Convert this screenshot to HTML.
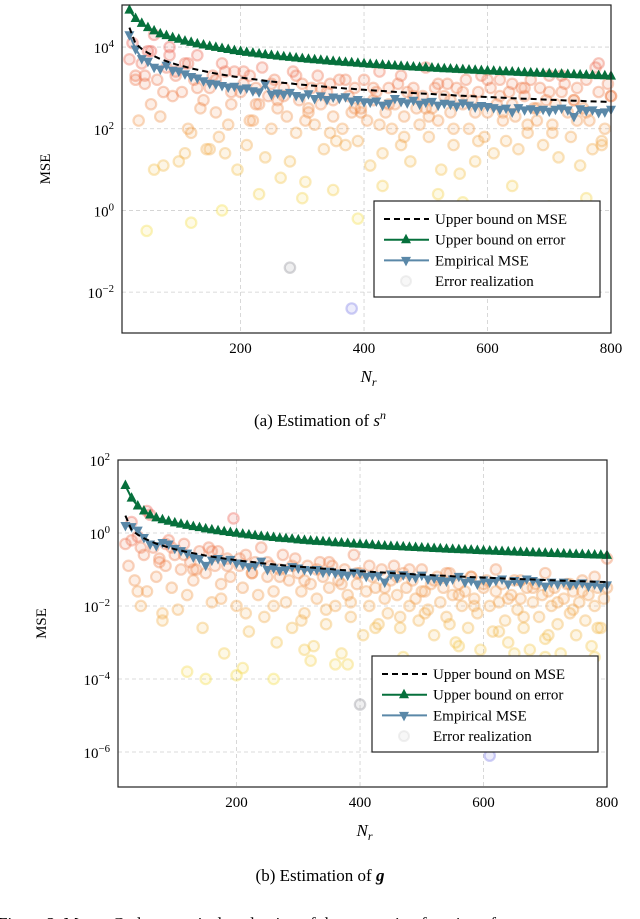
<!DOCTYPE html>
<html><head><meta charset="utf-8"><style>
html,body{margin:0;padding:0;background:#fff;}
svg{display:block;font-family:"Liberation Serif",serif;}
</style></head><body>
<svg id="fig" width="640" height="919" viewBox="0 0 640 919" xmlns="http://www.w3.org/2000/svg"></svg>
<script>
// ---------- DATA ----------
const nValues = [20,30,40,50,60,70,80,90,100,110,120,130,140,150,160,170,180,190,200,210,220,230,240,250,260,270,280,290,300,310,320,330,340,350,360,370,380,390,400,410,420,430,440,450,460,470,480,490,500,510,520,530,540,550,560,570,580,590,600,610,620,630,640,650,660,670,680,690,700,710,720,730,740,750,760,770,780,790,800];
const xTicks = [200,400,600,800];

// Chart (a)
const aMseBound = [30000,12000,9000,7200,6000,5100,4500,4000,3600,3300,3000,2800,2600,2400,2250,2120,2000,1890,1800,1710,1640,1570,1500,1440,1380,1330,1290,1240,1200,1160,1130,1090,1060,1030,1000,970,950,920,900,880,860,840,820,800,780,770,750,730,720,710,690,680,670,650,640,630,620,610,600,590,580,570,560,550,545,537,530,522,514,507,500,493,486,480,474,468,462,456,450];
const aErrBound = [80000,50000,38000,30000,25000,21000,19000,17000,15500,14000,13000,12000,11200,10400,9800,9200,8700,8200,7800,7400,7100,6800,6500,6250,6000,5800,5600,5400,5200,5050,4900,4750,4600,4480,4350,4230,4120,4010,3900,3810,3720,3630,3550,3470,3400,3330,3260,3190,3130,3070,3010,2950,2900,2850,2800,2750,2700,2650,2610,2570,2530,2490,2450,2410,2370,2340,2300,2270,2240,2200,2170,2140,2110,2080,2060,2030,2000,1980,1950];
const aEmpirical = [20000,9000,5200,4500,3200,2900,3600,2700,2600,2200,1900,1750,1500,1300,1250,1150,1050,1100,950,1000,850,800,1250,700,750,700,780,650,600,720,550,640,520,600,560,610,480,520,460,450,480,380,420,550,470,430,500,400,450,470,380,420,400,360,430,380,340,370,350,330,300,320,260,330,290,310,280,300,270,300,320,290,200,310,280,290,250,260,300];
const aYTicks = [-2,0,2,4];
const aScatterN = [20,25,30,35,40,45,50,55,60,65,70,75,80,85,90,95,100,105,110,115,120,125,130,140,145,150,155,160,165,170,175,180,185,190,195,200,205,210,215,220,225,230,235,240,245,250,255,260,265,270,275,280,285,290,295,300,305,310,315,320,325,330,335,340,345,350,355,360,365,370,375,380,385,390,395,400,405,410,415,420,425,430,435,440,445,450,455,460,465,470,475,480,485,490,495,500,505,510,515,520,525,530,535,540,545,550,555,560,565,570,575,580,585,590,595,600,605,610,615,620,625,630,635,640,645,650,655,660,665,670,675,680,685,690,695,700,705,710,715,720,725,730,735,740,745,750,755,760,765,770,775,780,785,790,795,800,48,120,280,380,60,110,170,300,390,560,230,430,700,350,150,640,520,760,
  30,55,75,95,115,135,160,185,205,225,250,270,290,310,330,350,370,395,415,440,460,480,500,520,540,560,580,600,620,640,660,680,700,720,740,760,780,800,45,85,130,175,215,260,305,345,385,425,465,505,545,585,625,665,705,745,785];
const aScatterLog = [3.7,4.1,3.3,2.2,3.6,3.1,3.9,2.6,4.3,3.2,2.3,1.1,3.5,4.0,2.8,3.4,1.2,2.9,3.6,2.0,1.9,3.2,3.8,2.7,1.5,3.0,3.3,2.4,1.8,3.6,1.4,2.1,2.6,3.4,1.0,2.9,3.1,1.6,3.3,2.2,3.0,2.6,3.5,1.3,2.8,2.0,3.2,2.5,0.8,3.0,2.3,1.2,3.4,1.9,2.7,3.1,0.7,2.4,3.0,2.1,3.3,2.6,1.5,2.9,3.1,2.3,1.7,3.2,2.0,1.6,2.8,2.4,3.0,1.7,2.5,3.2,2.2,1.1,2.7,2.9,3.4,1.4,2.4,3.0,2.0,2.6,3.1,1.6,2.3,2.9,1.2,3.0,2.5,2.1,2.8,3.5,1.8,2.5,3.0,2.2,1.0,2.8,3.1,2.4,1.6,3.0,0.9,2.6,3.2,2.0,2.7,1.2,2.9,3.3,1.8,2.4,3.0,1.4,2.6,3.2,2.2,1.7,2.9,3.1,2.3,1.5,3.0,2.8,1.9,3.2,2.5,2.2,3.0,1.6,2.7,3.3,2.1,2.6,1.3,2.9,3.1,2.4,1.8,2.7,3.0,1.1,2.5,3.2,2.2,1.5,3.5,2.9,1.7,2.0,3.1,2.8,-0.5,-0.3,-1.4,-2.4,1.0,1.4,0.0,0.3,-0.2,0.2,0.4,0.6,0.1,0.5,1.5,0.6,0.4,0.3,
  3.2,3.9,2.9,3.3,3.6,2.5,3.2,2.9,3.4,2.6,3.1,2.8,3.3,2.5,3.0,2.7,3.2,2.4,3.0,2.6,3.3,2.8,2.5,3.1,2.7,2.9,2.4,3.2,2.8,2.6,3.0,2.5,2.9,3.3,2.7,2.4,3.6,2.8,3.3,3.8,3.0,3.4,2.2,2.7,2.2,1.9,2.5,2.1,1.8,2.3,2.0,1.7,2.4,2.1,1.9,2.2,1.6];

// Chart (b)
const bMseBound = [3.0,1.2,0.9,0.72,0.6,0.51,0.45,0.4,0.36,0.33,0.3,0.28,0.26,0.24,0.225,0.212,0.2,0.189,0.18,0.171,0.164,0.157,0.15,0.144,0.138,0.133,0.129,0.124,0.12,0.116,0.113,0.109,0.106,0.103,0.1,0.097,0.095,0.092,0.09,0.088,0.086,0.084,0.082,0.08,0.078,0.077,0.075,0.073,0.072,0.071,0.069,0.068,0.067,0.065,0.064,0.063,0.062,0.061,0.06,0.059,0.058,0.057,0.056,0.055,0.0545,0.0537,0.053,0.0522,0.0514,0.0507,0.05,0.0493,0.0486,0.048,0.0474,0.0468,0.0462,0.0456,0.045];
const bErrBound = [20,9,5.5,4.0,3.1,2.6,2.3,2.1,1.9,1.75,1.62,1.5,1.4,1.3,1.22,1.15,1.09,1.03,0.98,0.93,0.89,0.85,0.81,0.78,0.75,0.72,0.70,0.68,0.65,0.63,0.61,0.59,0.58,0.56,0.54,0.53,0.52,0.50,0.49,0.48,0.47,0.45,0.44,0.43,0.425,0.416,0.408,0.4,0.39,0.384,0.376,0.369,0.362,0.356,0.35,0.344,0.338,0.331,0.326,0.321,0.316,0.311,0.306,0.301,0.296,0.292,0.288,0.284,0.28,0.275,0.271,0.268,0.264,0.26,0.257,0.254,0.25,0.247,0.244];
const bEmpirical = [1.6,1.5,1.2,0.75,0.5,0.45,0.55,0.5,0.38,0.33,0.28,0.22,0.2,0.13,0.18,0.2,0.17,0.19,0.15,0.14,0.12,0.13,0.17,0.1,0.11,0.095,0.1,0.12,0.11,0.1,0.095,0.1,0.085,0.09,0.08,0.075,0.07,0.085,0.08,0.065,0.07,0.068,0.045,0.075,0.06,0.072,0.065,0.06,0.07,0.055,0.058,0.05,0.048,0.055,0.065,0.045,0.05,0.04,0.052,0.045,0.05,0.055,0.04,0.05,0.042,0.055,0.05,0.045,0.035,0.045,0.04,0.045,0.038,0.04,0.043,0.035,0.04,0.033,0.038];
const bYTicks = [-6,-4,-2,0,2];
const bScatterN = [20,25,30,35,40,45,50,55,60,65,70,75,80,85,90,95,100,105,110,115,120,125,130,140,145,150,155,160,165,170,175,180,185,190,195,200,205,210,215,220,225,230,235,240,245,250,255,260,265,270,275,280,285,290,295,300,305,310,315,320,325,330,335,340,345,350,355,360,365,370,375,380,385,390,395,400,405,410,415,420,425,430,435,440,445,450,455,460,465,470,475,480,485,490,495,500,505,510,515,520,525,530,535,540,545,550,555,560,565,570,575,580,585,590,595,600,605,610,615,620,625,630,635,640,645,650,655,660,665,670,675,680,685,690,695,700,705,710,715,720,725,730,735,740,745,750,755,760,765,770,775,780,785,790,795,800,40,80,150,200,210,260,310,320,380,400,610,120,360,470,700,560,650,780,
  30,55,75,95,115,135,160,185,205,225,250,270,290,310,330,350,370,395,415,440,460,480,500,520,540,560,580,600,620,640,660,680,700,720,740,760,780,800,45,85,130,175,215,260,305,345,385,425,465,505,545,585,625,665,705,745,785];
const bScatterLog = [-0.3,-0.9,0.3,-1.3,-0.1,-2.0,-0.6,-1.6,0.5,-0.4,-1.2,-0.7,-2.4,-0.9,-0.2,-1.5,-0.6,-2.1,-1.0,-0.3,-1.7,-0.8,-1.3,-0.5,-2.6,-1.1,-0.4,-1.9,-0.9,-0.5,-1.4,-3.3,-0.7,-1.2,0.4,-2.0,-0.9,-1.5,-0.6,-2.7,-1.1,-0.8,-1.7,-0.4,-2.3,-1.2,-0.9,-1.6,-3.0,-1.0,-0.6,-1.9,-1.3,-2.6,-0.7,-1.1,-1.6,-2.2,-0.9,-1.4,-3.1,-1.8,-0.8,-1.2,-2.5,-1.5,-0.9,-2.0,-1.3,-3.3,-1.0,-1.7,-2.3,-0.6,-1.4,-1.1,-2.8,-1.6,-2.0,-1.2,-1.5,-2.5,-1.0,-1.8,-2.2,-1.3,-0.9,-1.7,-2.6,-1.1,-1.5,-2.0,-1.3,-1.8,-2.4,-1.0,-1.6,-2.1,-1.4,-2.8,-1.2,-1.9,-1.5,-2.3,-1.1,-1.7,-3.0,-1.4,-2.0,-1.6,-2.6,-1.2,-1.8,-2.2,-3.2,-1.5,-1.3,-2.0,-2.7,-1.6,-1.9,-1.4,-2.4,-3.0,-1.7,-1.3,-2.1,-1.8,-2.6,-1.5,-3.2,-1.9,-1.4,-2.3,-1.7,-2.9,-1.6,-2.0,-1.5,-2.5,-3.3,-1.8,-1.4,-2.2,-1.6,-2.8,-1.9,-1.3,-2.4,-1.7,-3.1,-2.0,-1.5,-2.6,-1.8,-0.7,-1.6,-2.2,-4.0,-3.9,-3.7,-4.0,-3.2,-3.5,-3.6,-4.7,-6.1,-3.8,-3.6,-3.4,-3.4,-3.1,-3.3,-3.4,
  -0.2,0.6,-0.8,-0.4,-0.6,-1.0,-0.5,-0.9,-0.7,-1.1,-0.8,-1.2,-0.9,-1.3,-1.0,-0.8,-1.4,-1.1,-0.9,-1.5,-1.2,-1.0,-1.6,-1.3,-1.1,-1.7,-1.2,-1.4,-1.0,-1.8,-1.3,-1.5,-1.1,-1.9,-1.4,-1.6,-1.2,-1.5,-0.4,-0.3,-1.0,-1.8,-2.2,-2.0,-2.4,-2.1,-1.9,-2.6,-2.3,-2.2,-2.5,-2.0,-2.7,-2.3,-2.8,-2.1,-2.6];

// ---------- DRAWING ----------
const NS = "http://www.w3.org/2000/svg";
const svg = document.getElementById("fig");
function mk(tag, attrs, parent) {
  const e = document.createElementNS(NS, tag);
  for (const k in attrs) e.setAttribute(k, attrs[k]);
  (parent || svg).appendChild(e);
  return e;
}
function scatterColor(lg, lo, hi) {
  let t = (lg - lo) / (hi - lo); t = Math.max(0, Math.min(1, t));
  const r = Math.round(245 - 10 * t), g = Math.round(222 - 130 * t), b = Math.round(70 + 10 * t);
  return "rgb(" + r + "," + g + "," + b + ")";
}
function supText(g, x, y, base, exp, anchor, size, name) {
  const t = mk("text", {x: x, y: y, "text-anchor": anchor, "font-size": size, fill: "#000"}, g);
  
  
  const a = mk("tspan", {}, t); a.textContent = base;
  const b = mk("tspan", {dy: -6, "font-size": size * 0.72}, t); b.textContent = exp;
  return t;
}

function drawChart(c) {
  const g = mk("g", {});
  
  
  const xs = v => c.L + (v - 8) / (800 - 8) * (c.R - c.L);
  const ys = v => c.B - (Math.log10(v) - c.yMin) / (c.yMax - c.yMin) * (c.B - c.T);
  const ysl = lg => c.B - (lg - c.yMin) / (c.yMax - c.yMin) * (c.B - c.T);

  const grid = mk("g", {stroke: "#cfcfcf", "stroke-width": 0.8, "stroke-dasharray": "4,3"}, g);
  
  
  xTicks.forEach(t => { if (t < 800) mk("line", {x1: xs(t), x2: xs(t), y1: c.T, y2: c.B}, grid); });
  c.yTicks.forEach(t => { mk("line", {x1: c.L, x2: c.R, y1: ysl(t), y2: ysl(t)}, grid); });

  const sc = mk("g", {}, g);
  
  
  for (let i = 0; i < Math.min(c.sN.length, c.sLog.length); i++) {
    const lg = c.sLog[i];
    let col = scatterColor(lg, c.cLo, c.cHi);
    if (lg < c.grayBelow) col = lg < c.blueBelow ? "rgb(120,120,230)" : "rgb(140,140,150)";
    const p = mk("circle", {cx: xs(c.sN[i]), cy: ysl(lg), r: 5.2, fill: col, "fill-opacity": 0.14, stroke: col, "stroke-width": 2.2, "stroke-opacity": 0.36}, sc);
    
    
  }

  function path(vals) {
    let d = "";
    for (let i = 0; i < Math.min(nValues.length, vals.length); i++) d += (i ? "L" : "M") + xs(nValues[i]).toFixed(1) + "," + ys(vals[i]).toFixed(1);
    return d;
  }
  const green = mk("g", {}, g);
  
  
  mk("path", {d: path(c.err), fill: "none", stroke: "#06703c", "stroke-width": 2}, green);
  for (let i = 0; i < Math.min(nValues.length, c.err.length); i++) {
    const x = xs(nValues[i]), y = ys(c.err[i]);
    const m = mk("path", {d: `M${x},${y-6}L${x+5},${y+3.5}L${x-5},${y+3.5}Z`, fill: "#06703c"}, green);
    
    
  }
  const blue = mk("g", {}, g);
  
  
  mk("path", {d: path(c.emp), fill: "none", stroke: "#5a88a8", "stroke-width": 2}, blue);
  for (let i = 0; i < Math.min(nValues.length, c.emp.length); i++) {
    const x = xs(nValues[i]), y = ys(c.emp[i]);
    const m = mk("path", {d: `M${x},${y+6}L${x+5},${y-3.5}L${x-5},${y-3.5}Z`, fill: "#5a88a8"}, blue);
    
    
  }
  const dash = mk("path", {d: path(c.mse), fill: "none", stroke: "#000", "stroke-width": 2, "stroke-dasharray": "6,4"}, g);
  
  

  const box = mk("rect", {x: c.L, y: c.T, width: c.R - c.L, height: c.B - c.T, fill: "none", stroke: "#222", "stroke-width": 1.2}, g);
  
  

  xTicks.forEach(t => {
    const tx = mk("text", {x: xs(t), y: c.B + 20, "text-anchor": "middle", "font-size": 15}, g);
    
    
    tx.textContent = t;
  });
  c.yTicks.forEach(t => {
    supText(g, c.L - 8, ysl(t) + 6, "10", (t < 0 ? "\u2212" + (-t) : t), "end", 15, 'y-tick-label');
  });
  const yt = mk("text", {x: 0, y: 0, "text-anchor": "middle", "font-size": 15, transform: `translate(${c.L - 72},${(c.T + c.B) / 2}) rotate(-90)`}, g);
  
  
  yt.textContent = "MSE";
  const xt = mk("text", {x: (c.L + c.R) / 2 + 2, y: c.B + 49, "text-anchor": "middle", "font-size": 17, "font-style": "italic"}, g);
  
  
  const n1 = mk("tspan", {}, xt); n1.textContent = "N";
  const n2 = mk("tspan", {dy: 4, "font-size": 12}, xt); n2.textContent = "r";

  const lg = mk("g", {}, g);
  
  
  mk("rect", {x: c.lx, y: c.ly, width: 226, height: 96, fill: "#fff", stroke: "#222", "stroke-width": 1.2}, lg);
  const rows = ["Upper bound on MSE", "Upper bound on error", "Empirical MSE", "Error realization"];
  rows.forEach((r, i) => {
    const y = c.ly + 18 + i * 20.7;
    const e = mk("g", {}, lg);
    
    
    if (i === 0) mk("line", {x1: c.lx + 10, x2: c.lx + 55, y1: y, y2: y, stroke: "#000", "stroke-width": 2, "stroke-dasharray": "6,4"}, e);
    if (i === 1) { mk("line", {x1: c.lx + 10, x2: c.lx + 55, y1: y, y2: y, stroke: "#06703c", "stroke-width": 2}, e);
      mk("path", {d: `M${c.lx+32},${y-6}L${c.lx+37},${y+3.5}L${c.lx+27},${y+3.5}Z`, fill: "#06703c"}, e); }
    if (i === 2) { mk("line", {x1: c.lx + 10, x2: c.lx + 55, y1: y, y2: y, stroke: "#5a88a8", "stroke-width": 2}, e);
      mk("path", {d: `M${c.lx+32},${y+6}L${c.lx+37},${y-3.5}L${c.lx+27},${y-3.5}Z`, fill: "#5a88a8"}, e); }
    if (i === 3) mk("circle", {cx: c.lx + 32, cy: y, r: 5, fill: "#ccc", "fill-opacity": 0.15, stroke: "#ccc", "stroke-opacity": 0.3, "stroke-width": 2}, e);
    const t = mk("text", {x: c.lx + 61, y: y + 5, "font-size": 15}, e);
    t.textContent = r;
  });
}

drawChart({name: "chart-a", L: 122, R: 611, T: 5, B: 333, yMin: -3, yMax: 5.03, yTicks: aYTicks,
  mse: aMseBound, err: aErrBound, emp: aEmpirical, sN: aScatterN, sLog: aScatterLog,
  cLo: 0, cHi: 4, grayBelow: -1, blueBelow: -2, lx: 374, ly: 201});
drawChart({name: "chart-b", L: 118, R: 607, T: 460, B: 787, yMin: -6.96, yMax: 2, yTicks: bYTicks,
  mse: bMseBound, err: bErrBound, emp: bEmpirical, sN: bScatterN, sLog: bScatterLog,
  cLo: -4, cHi: 0.5, grayBelow: -4.5, blueBelow: -5.5, lx: 372, ly: 656});

const capA = mk("text", {x: 320, y: 426, "text-anchor": "middle", "font-size": 17});


capA.innerHTML = '(a) Estimation of <tspan font-style="italic">s</tspan><tspan dy="-7" font-size="12" font-style="italic">n</tspan>';
const capB = mk("text", {x: 320, y: 881, "text-anchor": "middle", "font-size": 17});


capB.innerHTML = '(b) Estimation of <tspan font-weight="bold" font-style="italic">g</tspan>';
const fig = mk("text", {x: -2, y: 929, "font-size": 17});


fig.textContent = "Figure 3.  Monte Carlo numerical evaluation of the generating function of";
</script>
</body></html>
